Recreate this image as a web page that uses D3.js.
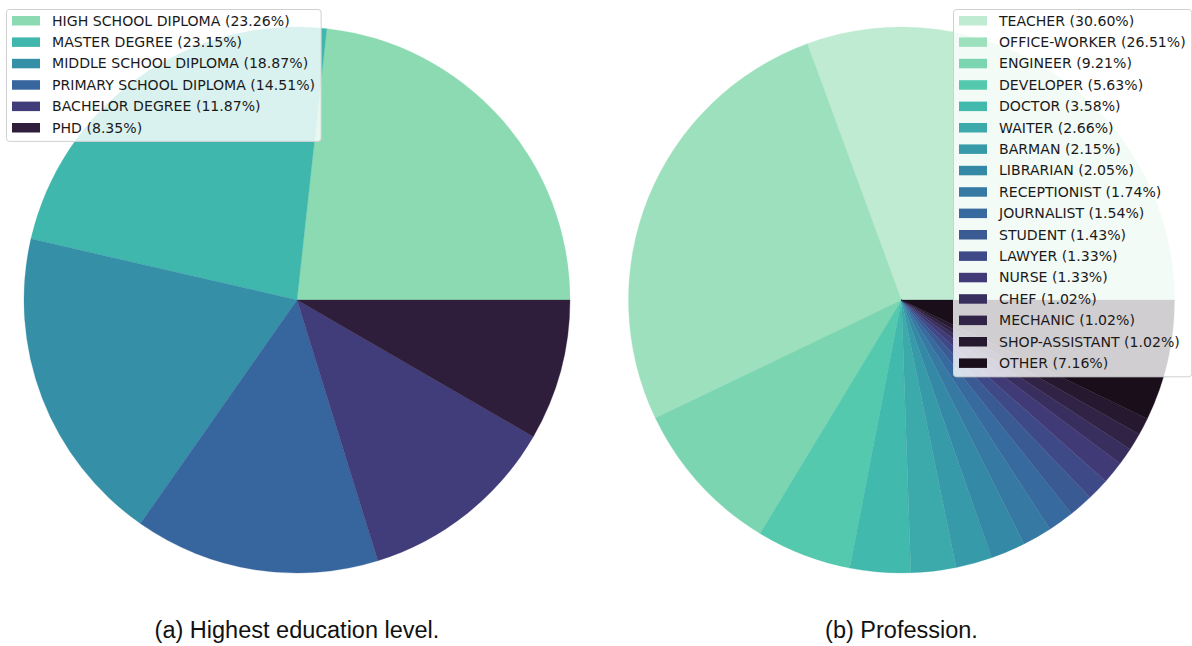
<!DOCTYPE html>
<html>
<head>
<meta charset="utf-8">
<script src="https://cdn.jsdelivr.net/npm/d3@7"></script>
<style>
  body { margin: 0; background: #fff; }
  svg { display: block; }
</style>
</head>
<body>
<svg width="1192" height="646"></svg>
<script>
"use strict";

// education level (left pie)
var eduLabels = ["HIGH SCHOOL DIPLOMA", "MASTER DEGREE", "MIDDLE SCHOOL DIPLOMA",
  "PRIMARY SCHOOL DIPLOMA", "BACHELOR DEGREE", "PHD"];
var eduValues = [23.26, 23.15, 18.87, 14.51, 11.87, 8.35];

// profession (right pie)
var jobLabels = ["TEACHER", "OFFICE-WORKER", "ENGINEER", "DEVELOPER", "DOCTOR", "WAITER",
  "BARMAN", "LIBRARIAN", "RECEPTIONIST", "JOURNALIST", "STUDENT", "LAWYER", "NURSE",
  "CHEF", "MECHANIC", "SHOP-ASSISTANT", "OTHER"];
var jobValues = [30.60, 26.51, 9.21, 5.63, 3.58, 2.66, 2.15, 2.05, 1.74, 1.54, 1.43,
  1.33, 1.33, 1.02, 1.02, 1.02, 7.16];

var captions = ["(a) Highest education level.", "(b) Profession."];

// approximate "mako" colormap anchors (dark -> light)
var makoPos   = [0, 1/7, 2/7, 3/7, 4/7, 5/7, 0.778, 6/7, 1];
var makoStops = ["#0b0405", "#2e1e3b", "#413d7b", "#37659e", "#348fa7", "#40b7ad", "#54c9ad", "#8bdab2", "#def5e5"];
var mako = d3.scaleLinear()
    .domain(makoPos)
    .range(makoStops)
    .interpolate(d3.interpolateRgb);

// seaborn-like sampling of a reversed colormap
var makoR = function(n) {
  var out = [];
  for (var i = 0; i < n; i++) out.push(mako(1 - (i + 1) / (n + 1)));
  return out;
};

var svg = d3.select("svg");

var drawPie = function(labels, values, cx, cy, r, legendX, caption) {
  var colors = makoR(values.length);
  var z = d3.scaleOrdinal().domain(labels).range(colors);

  // matplotlib style: start at 3 o'clock, go counter-clockwise
  var pie = d3.pie()
    .sort(null)
    .value(function(d) { return d.v; })
    .startAngle(Math.PI / 2)
    .endAngle(Math.PI / 2 - 2 * Math.PI);

  var arc = d3.arc().innerRadius(0).outerRadius(r);

  var rows = labels.map(function(l, i) { return {label: l, v: values[i]}; });

  var g = svg.append("g").attr("transform", "translate(" + cx + "," + cy + ")");
  g.selectAll("path")
    .data(pie(rows))
    .enter().append("path")
      .attr("d", arc)
      .attr("fill", function(d) { return z(d.data.label); })
      .attr("stroke", function(d) { return z(d.data.label); })
      .attr("stroke-width", 0.3);

  // legend
  var pitch = 21.4;
  var legend = svg.append("g").attr("transform", "translate(" + legendX + ",9.5)");
  var box = legend.append("rect")
    .attr("fill", "#fff")
    .attr("fill-opacity", 0.8)
    .attr("stroke", "#d0d0d0")
    .attr("stroke-width", 1)
    .attr("rx", 3);

  var items = legend.selectAll("g.item")
    .data(rows)
    .enter().append("g")
      .attr("class", "item")
      .attr("transform", function(d, i) { return "translate(0," + (i * pitch) + ")"; });

  items.append("rect")
    .attr("x", 5.5)
    .attr("y", 6.5)
    .attr("width", 28)
    .attr("height", 9.5)
    .attr("fill", function(d) { return z(d.label); });

  var texts = items.append("text")
    .attr("x", 45.5)
    .attr("y", 11)
    .attr("dy", "0.36em")
    .attr("font-family", "DejaVu Sans")
    .attr("font-size", "14.1px")
    .attr("fill", "#1a1a1a")
    .text(function(d) { return d.label + " (" + d.v.toFixed(2) + "%)"; });

  var maxW = 0;
  texts.each(function() { maxW = Math.max(maxW, this.getComputedTextLength()); });
  box.attr("width", 45.5 + maxW + 6)
     .attr("height", rows.length * pitch + 3.5);

  svg.append("text")
    .attr("x", cx)
    .attr("y", 638)
    .attr("text-anchor", "middle")
    .attr("font-family", "Liberation Sans, Arial, sans-serif")
    .attr("font-size", "23.5px")
    .attr("fill", "#111")
    .text(caption);
};

drawPie(eduLabels, eduValues, 297, 300, 273, 6.5, captions[0]);
drawPie(jobLabels, jobValues, 901.5, 300, 273, 953.5, captions[1]);
</script>
</body>
</html>
